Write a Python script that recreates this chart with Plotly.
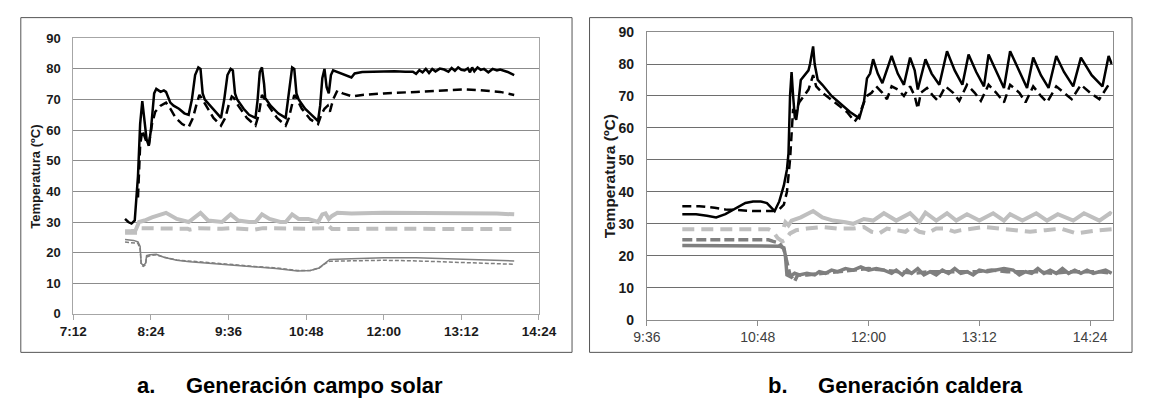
import plotly.graph_objects as go

# ---------------- Panel a: Generación campo solar ----------------
a_black_solid_t = ["8:00","8:03","8:06","8:09","8:12","8:14","8:16","8:18","8:20","8:22","8:24","8:27","8:29","8:31","8:33","8:36","8:38","8:42","8:45","8:50","8:55","8:59",
                   "9:02","9:05","9:08","9:10","9:12","9:14","9:20","9:25","9:29","9:32","9:35","9:38","9:40","9:42","9:44","9:50","9:55",
                   "10:01","10:03","10:05","10:07","10:09","10:10","10:15","10:22","10:29","10:32","10:35","10:37","10:39","10:41","10:47","10:53","10:59",
                   "11:01","11:03","11:05","11:07","11:09","11:11","11:13","11:18","11:24","11:30","11:33","11:40","11:50",
                   "12:00","12:10","12:20","12:27","12:30","12:33","12:36","12:39","12:42","12:45","12:48","12:52","12:56",
                   "13:00","13:03","13:06","13:09","13:12","13:15","13:18","13:20","13:22","13:24","13:27","13:30","13:33","13:37","13:41","13:45","13:48","13:55","14:01"]
a_black_solid_v = [31,30,29.5,30.5,45,62,69.5,62,57,55,60,72,73.5,73,72.5,73,72.5,69,68,67,65.5,65,
                   70,78,80.5,80,72,70,67.5,65.5,64,70,78,80,79.5,72,70,67,65,
                   64,70,79,80.5,75,70.5,68,65.5,64,72,80.5,80,72,70,67,65,63,
                   68,77,80,74,72,78,79.5,78.8,78,77.2,78.5,79,79.1,
                   79.2,79.2,79.1,79.1,78.4,79.6,78.9,80,78.7,80,79.2,80.1,79.8,
                   79.1,80.3,79.4,80.5,79.7,79.5,80.2,78.9,80.5,79.2,80.5,79.7,80,78.9,80,79.5,79.8,79,78]

a_black_dash_t = ["8:12","8:14","8:16","8:18","8:20","8:22","8:25","8:28","8:33","8:38","8:42","8:47","8:53","8:59",
                  "9:03","9:06","9:09","9:11","9:15","9:22","9:29","9:33","9:36","9:39","9:41","9:45","9:53",
                  "10:01","10:04","10:07","10:09","10:13","10:21","10:29","10:32","10:35","10:37","10:39","10:44","10:52","10:59",
                  "11:02","11:05","11:08","11:10","11:13","11:17","11:22","11:31","11:40",
                  "12:00","12:30","13:00","13:15","13:30","13:48","14:01"]
a_black_dash_v = [38,55,60,58,56,55,62,66,68,69,67,64,62,61,
                  64,68,71.5,70.5,68,64,61.5,64,68,71,70.5,68,64,
                  61.5,65,71.5,70.5,68,64,61.5,64,68,71.5,70.5,67,63.5,62,
                  65,67,68,66,70,73,72,71,71.5,
                  72,72.5,73,73.3,73,72.5,71.5]

a_lgray_solid_t = ["8:00","8:06","8:10","8:13","8:18","8:25","8:38","8:48","8:59","9:05","9:10","9:17","9:25","9:30","9:38","9:45","9:55",
                   "10:01","10:07","10:14","10:24","10:29","10:35","10:41","10:50","10:59","11:03","11:06","11:09","11:12","11:17","11:30",
                   "12:00","12:30","13:00","13:30","13:45","14:01"]
a_lgray_solid_v = [27,27,27.5,30,30.5,31.5,33,31,30,31.5,33,30.5,30,30,32.5,30.5,30,
                   30,32.5,31,30,30,32.5,31,31,30,32.5,32.8,31,32,33,32.8,
                   33,33,33,33,32.8,32.5]

a_lgray_dash_t = ["8:00","8:12","8:15","8:30","8:58","9:00","9:08","9:30","9:40","10:00","10:08","10:48","11:05","11:08","11:12","12:00","13:00","14:01"]
a_lgray_dash_v = [26.5,26.5,28,28,27.8,27.5,28,27.8,28,27.5,28,27.8,28,29,27.7,27.8,27.9,27.7]

a_mgray_solid_t = ["8:00","8:08","8:12","8:14","8:15","8:17","8:19","8:20","8:23","8:29","8:36","8:48","9:00","9:20","9:40",
                   "10:00","10:20","10:40","10:52","11:00","11:06","11:10","11:30","12:00","12:30","13:00","13:30","14:01"]
a_mgray_solid_v = [24.3,24,23.5,22,16.5,15.8,16.5,19,19.3,19.5,18.5,17.5,17,16.5,16,
                   15.3,14.8,14,14.2,15,16.8,17.8,18,18.3,18.3,18,17.7,17.3]

a_mgray_dash_t = ["8:00","8:12","8:14","8:15","8:17","8:19","8:20","8:23","8:29","8:36","8:48","9:00","9:20","9:40",
                  "10:00","10:20","10:40","10:52","11:00","11:06","11:10","11:30","12:00","12:30","13:00","13:30","14:01"]
a_mgray_dash_v = [23.5,23,21,16,15.5,16,18.5,19,19.3,18.5,17.6,17.2,16.7,16.1,
                  15.5,15,14.2,14.2,15,16.5,17.2,17.3,17.5,17.3,17,16.5,16.2]

# ---------------- Panel b: Generación caldera ----------------
b_black_solid_t = ["9:59","10:08","10:15","10:21","10:27","10:34","10:40","10:45","10:50","10:54","10:57","10:59",
                   "11:02","11:05","11:07","11:08","11:09","11:10","11:11","11:12","11:13","11:14","11:16","11:19","11:21","11:22","11:24","11:25","11:27","11:30","11:36","11:42","11:48","11:54","11:57","11:59",
                   "12:01","12:03","12:06","12:09","12:12","12:15","12:19","12:23","12:27","12:30","12:32","12:33","12:37","12:41","12:46","12:51","12:56",
                   "13:01","13:05","13:10","13:15","13:18","13:23","13:28","13:32","13:38","13:43","13:47","13:52","13:57",
                   "14:02","14:07","14:13","14:18","14:25","14:32","14:36","14:38"]
b_black_solid_v = [33,33,32.5,32,33,35,36.5,37,37,36.5,35,34,
                   37,42,47,52,70,77.5,70,64,62.5,66,75,77,78,80,85.5,80,75,73.5,70,67.5,65,63,68,75.5,
                   77,81.5,77,74,78,82.5,77,73.5,82,78,72,74,81.5,77,73.5,84,78,
                   73.5,83,77.5,73,83,77.5,72.5,84,77.5,72.5,82,76.5,72.5,
                   82.5,77.5,73,82,76.5,73,82.5,80]

b_black_dash_t = ["9:59","10:10","10:20","10:27","10:35","10:45","10:58","11:02","11:05","11:07","11:09","11:10","11:11","11:12","11:13","11:15","11:18","11:21","11:24","11:26","11:30","11:38","11:46","11:51","11:54","11:57","11:59",
                  "12:02","12:05","12:09","12:12","12:15","12:19","12:23","12:27","12:30","12:32","12:34","12:38","12:42","12:45","12:50","12:55","12:59",
                  "13:04","13:09","13:13","13:18","13:23","13:28","13:32","13:38","13:42","13:47","13:52","13:56",
                  "14:02","14:07","14:12","14:18","14:24","14:30","14:36","14:38"]
b_black_dash_v = [35.5,35.5,35,34.5,34.3,34,34,34.5,36,40,50,58,66,63,66,68,70,72,76.5,73,71,68,65,62,64,68,70,
                  71,73,71,69,73,72,70,73,70,66,71,72.5,70,68.5,73,71,68.5,
                  73.5,71,68.5,73.5,71,68,73.5,71,68,73,70,68,
                  73,71,69,73.5,71,69,73.5,74]

b_lgray_solid_t = ["11:05","11:06","11:08","11:10","11:16","11:24","11:30","11:37","11:45","11:50","11:57",
                   "12:03","12:10","12:18","12:27","12:33","12:37","12:44","12:51","12:57",
                   "13:04","13:12","13:21","13:28","13:32","13:40","13:49","13:56",
                   "14:03","14:13","14:20","14:30","14:37","14:38"]
b_lgray_solid_v = [29,30.5,29.5,31,32,34,32,31,30.5,30,31.5,
                   31,33.3,31,33.3,30.5,33.5,31,33.3,31,
                   33,31,33.3,31,33,31,33.3,31,
                   33,31,33.3,31,33.3,33]

b_lgray_dash_t = ["9:59","10:55","10:58","11:01","11:04","11:06","11:09","11:13","11:20","11:30","11:40","11:50","11:57",
                  "12:02","12:07","12:12","12:18","12:24","12:28","12:33","12:38","12:44","12:50","12:56",
                  "13:00","13:10","13:15","13:25","13:35","13:45","13:55","14:05","14:15","14:22","14:30","14:38"]
b_lgray_dash_v = [28.3,28.3,27.5,25.5,24.5,25,27,28,28.5,29,28.5,28.5,29,
                  27.5,27,28.5,28,27.5,29,27.5,27,28.5,28.5,27.5,
                  28,28.5,29,28.5,28,27.5,28,28.5,27,27.5,28,28.3]

b_mgray_solid_t = ["9:59","10:30","10:55","11:02","11:05","11:06","11:07","11:09","11:12","11:15","11:20","11:25","11:28","11:32","11:36","11:40","11:45","11:50","11:55",
                   "12:00","12:05","12:10","12:15","12:18","12:22","12:25","12:28","12:32","12:36","12:40","12:44","12:48","12:52","12:56",
                   "13:00","13:04","13:08","13:12","13:17","13:22","13:28","13:34","13:38","13:42","13:46","13:50","13:54","13:58",
                   "14:02","14:06","14:10","14:14","14:18","14:22","14:26","14:30","14:34","14:38"]
b_mgray_solid_v = [23.2,23.2,23.2,23,22.5,20,14,13.5,14.5,14,14.5,14,15,14.5,15.5,15,16,15.5,16.5,
                   15.5,16,15.5,14.5,15.5,14,15.5,14.5,16,14,15,14,15.5,14.5,16,
                   14.5,15,14,15.5,15,15.5,16,15.5,14,15,14.5,16,14.5,15.5,
                   14.5,16,14.5,15.5,14.5,15.5,14.5,15,15.5,14.5]

b_mgray_dash_t = ["9:59","10:30","10:55","10:58","11:02","11:05","11:07","11:09","11:12","11:14","11:20","11:30","11:40","11:50",
                  "12:00","12:10","12:20","12:30","12:40","12:50","13:00","13:10","13:20","13:30","13:40","13:50","14:00","14:10","14:20","14:30","14:38"]
b_mgray_dash_v = [25,25,25,24.5,24,22,18,14,12,14,14,14.5,15,15.5,
                  16,15.5,15,14.5,15,15,15,15,15.5,15,15,15,14.5,15,15,15,14.5]

# Axis tick labels
a_xticks = ["7:12", "8:24", "9:36", "10:48", "12:00", "13:12", "14:24"]
b_xticks = ["9:36", "10:48", "12:00", "13:12", "14:24"]
y_ticks = [0, 10, 20, 30, 40, 50, 60, 70, 80, 90]

y_title = "Temperatura (ºC)"
NB = "\u00a0" * 5
title_a = "a." + NB + "Generación campo solar"
title_b = "b." + NB + "Generación caldera"


def hrs(lst):
    out = []
    for s in lst:
        h, m = s.split(":")
        out.append(int(h) + int(m) / 60.0)
    return out


W, H = 1151, 420
FONT = "Arial, Liberation Sans, sans-serif"

BLACK = "#000000"
LGRAY = "#bfbfbf"
MGRAY = "#7f7f7f"

fig = go.Figure()

def add(t, v, color, width, dash, xa, ya):
    fig.add_trace(go.Scatter(x=hrs(t), y=v, mode="lines",
                             line=dict(color=color, width=width, dash=dash, shape="linear"),
                             xaxis=xa, yaxis=ya, hoverinfo="skip", showlegend=False))

# panel a
add(a_lgray_dash_t, a_lgray_dash_v, LGRAY, 4, "12px,7px", "x", "y")
add(a_lgray_solid_t, a_lgray_solid_v, LGRAY, 4, "solid", "x", "y")
add(a_mgray_dash_t, a_mgray_dash_v, MGRAY, 1.5, "4px,2px", "x", "y")
add(a_mgray_solid_t, a_mgray_solid_v, MGRAY, 1.5, "solid", "x", "y")
add(a_black_dash_t, a_black_dash_v, BLACK, 2.5, "9px,5px", "x", "y")
add(a_black_solid_t, a_black_solid_v, BLACK, 2.5, "solid", "x", "y")

# panel b
add(b_lgray_dash_t, b_lgray_dash_v, LGRAY, 4, "12px,7px", "x2", "y2")
add(b_lgray_solid_t, b_lgray_solid_v, LGRAY, 4, "solid", "x2", "y2")
add(b_mgray_dash_t, b_mgray_dash_v, MGRAY, 3.5, "10px,4px", "x2", "y2")
add(b_mgray_solid_t, b_mgray_solid_v, MGRAY, 3.5, "solid", "x2", "y2")
add(b_black_dash_t, b_black_dash_v, BLACK, 2.5, "9px,5px", "x2", "y2")
add(b_black_solid_t, b_black_solid_v, BLACK, 2.5, "solid", "x2", "y2")

def px_x(a, b):
    return [a / W, b / W]

def px_y(top, bottom):
    return [1 - bottom / H, 1 - top / H]

a_tv = hrs(a_xticks)
b_tv = hrs(b_xticks)

fig.update_layout(
    width=W, height=H,
    margin=dict(l=0, r=0, t=0, b=0),
    paper_bgcolor="white", plot_bgcolor="white",
    showlegend=False,
    font=dict(family=FONT, color="#000000"),
    xaxis=dict(domain=px_x(61, 540), range=[7.2, 14.4], tickvals=a_tv, ticktext=a_xticks,
               showgrid=False, zeroline=False, showline=True, linecolor="#a6a6a6", linewidth=1,
               mirror=True, ticks="outside", ticklen=5, tickcolor="#a6a6a6",
               tickfont=dict(family=FONT, size=13.5, color="#1a1a1a", weight="bold"), anchor="y"),
    yaxis=dict(domain=px_y(31.5, 318), range=[0, 90], tickvals=y_ticks,
               showgrid=True, gridcolor="#8c8c8c", gridwidth=1, zeroline=False,
               showline=True, linecolor="#a6a6a6", linewidth=1, mirror=True, ticks="",
               ticklabelstandoff=9,
               tickfont=dict(family=FONT, size=13, color="#1a1a1a", weight="bold"), anchor="x"),
    xaxis2=dict(domain=px_x(651, 1130), range=[9.6, 14.643], tickvals=b_tv, ticktext=b_xticks,
                showgrid=False, zeroline=False, showline=True, linecolor="#8c8c8c", linewidth=1,
                mirror=True, ticks="outside", ticklen=5, tickcolor="#8c8c8c",
                tickfont=dict(family=FONT, size=14, color="#404040"), anchor="y2"),
    yaxis2=dict(domain=px_y(25, 324), range=[0, 90], tickvals=y_ticks,
                showgrid=True, gridcolor="#6e6e6e", gridwidth=1, zeroline=False,
                showline=True, linecolor="#8c8c8c", linewidth=1, mirror=True, ticks="",
                ticklabelstandoff=9,
                tickfont=dict(family=FONT, size=14, color="#1a1a1a", weight="bold"), anchor="x2"),
)

# outer frames
for x0, x1 in [(7, 574), (592, 1150)]:
    fig.add_shape(type="rect", xref="paper", yref="paper",
                  x0=x0 / W, x1=x1 / W, y0=1 - 358 / H, y1=1 - 10 / H,
                  line=dict(color="#555555", width=1), fillcolor="rgba(0,0,0,0)", layer="below")

# y axis titles
fig.add_annotation(text=y_title, xref="paper", yref="paper", x=22 / W, y=1 - 175 / H,
                   textangle=-90, showarrow=False, xanchor="center", yanchor="middle",
                   font=dict(family=FONT, size=13, color="#1a1a1a", weight="bold"))
fig.add_annotation(text=y_title, xref="paper", yref="paper", x=612 / W, y=1 - 175 / H,
                   textangle=-90, showarrow=False, xanchor="center", yanchor="middle",
                   font=dict(family=FONT, size=15.5, color="#1a1a1a", weight="bold"))

# captions
fig.add_annotation(text=title_a, xref="paper", yref="paper", x=124 / W, y=1 - 392 / H,
                   showarrow=False, xanchor="left", yanchor="middle",
                   font=dict(family=FONT, size=22, color="#000000", weight="bold"))
fig.add_annotation(text=title_b, xref="paper", yref="paper", x=1040 / W, y=1 - 392 / H,
                   showarrow=False, xanchor="right", yanchor="middle",
                   font=dict(family=FONT, size=22, color="#000000", weight="bold"))

fig.write_html("out.html")
